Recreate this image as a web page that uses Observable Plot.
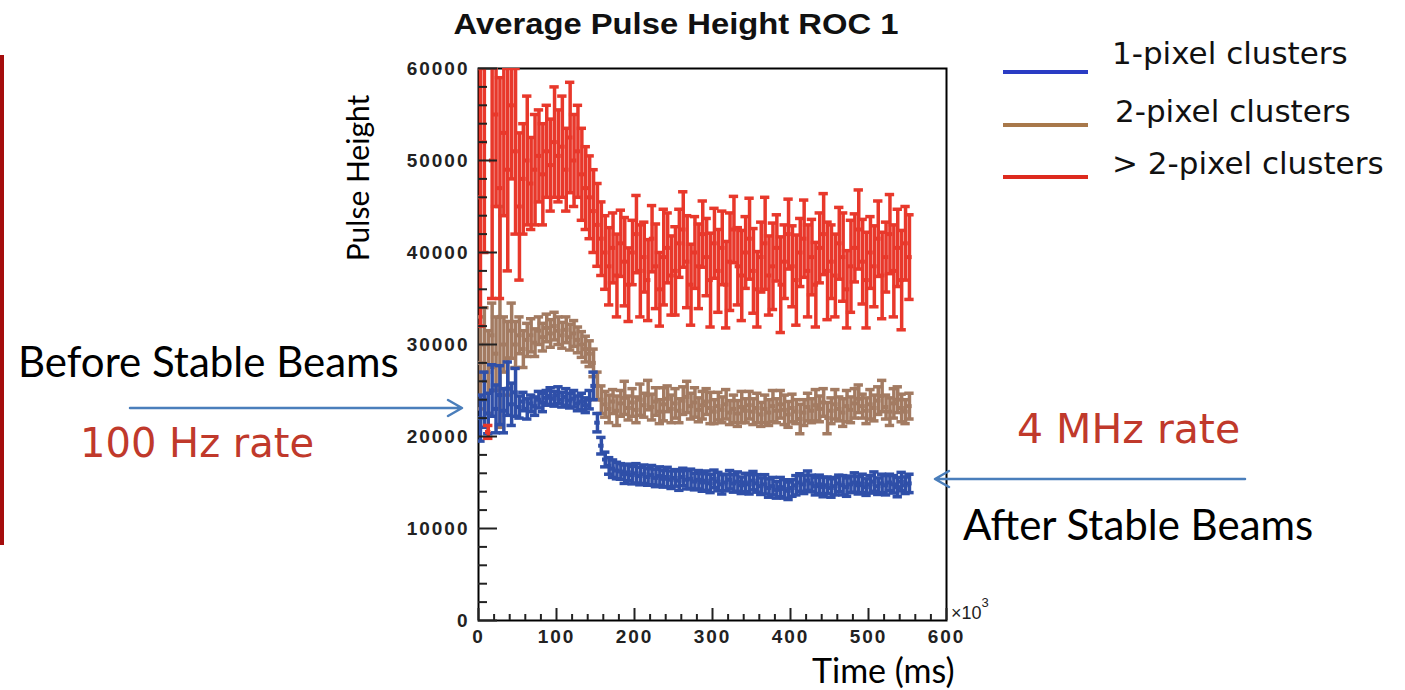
<!DOCTYPE html>
<html>
<head>
<meta charset="utf-8">
<script src="https://cdn.jsdelivr.net/npm/d3@7"></script>
<script src="https://cdn.jsdelivr.net/npm/@observablehq/plot@0.6"></script>
<style>
  html, body { margin: 0; padding: 0; background: #fff; }
  #wrap { position: relative; width: 1405px; height: 690px; overflow: hidden; }
  #chart { position: absolute; left: 0; top: 0; }
  .ov { position: absolute; white-space: nowrap; line-height: 1; }
  .cal { font-family: Lato, "Open Sans", sans-serif; color: #000; }
  .comic { font-family: "DejaVu Sans", sans-serif; }
</style>
</head>
<body>
<div id="wrap">
  <div id="chart"></div>
</div>
<script>
// ---- Data (time in units of 10^3 ms, pulse height in ADC units) ----
const timeBins = [
  2.5,7.5,12.5,17.5,22.5,27.5,32.5,37.5,42.5,47.5,
  52.5,57.5,62.5,67.5,72.5,77.5,82.5,87.5,92.5,97.5,
  102.5,107.5,112.5,117.5,122.5,127.5,132.5,137.5,142.5,147.5,
  152.5,157.5,162.5,167.5,172.5,177.5,182.5,187.5,192.5,197.5,
  202.5,207.5,212.5,217.5,222.5,227.5,232.5,237.5,242.5,247.5,
  252.5,257.5,262.5,267.5,272.5,277.5,282.5,287.5,292.5,297.5,
  302.5,307.5,312.5,317.5,322.5,327.5,332.5,337.5,342.5,347.5,
  352.5,357.5,362.5,367.5,372.5,377.5,382.5,387.5,392.5,397.5,
  402.5,407.5,412.5,417.5,422.5,427.5,432.5,437.5,442.5,447.5,
  452.5,457.5,462.5,467.5,472.5,477.5,482.5,487.5,492.5,497.5,
  502.5,507.5,512.5,517.5,522.5,527.5,532.5,537.5,542.5,547.5,552.5
];

const onePixel = [
  22000,24000,22500,25000,23000,24500,22800,25200,23500,24800,
  23200,23800,23000,23600,23300,24000,23700,24200,24400,24100,
  24500,24000,24300,23900,24100,23600,23800,23400,24000,25500,
  21500,19000,17500,16800,16500,16300,16200,15900,16100,15800,
  16000,15700,15900,15600,15800,15500,15700,15400,15600,15300,
  15500,15200,15600,15300,15400,15100,15300,15000,15200,14900,
  15400,15100,14800,15000,15300,14900,15100,14700,15000,14800,
  15200,14900,14600,14800,14400,14600,14200,14500,14300,14100,
  14400,14700,15000,14800,15200,14900,14600,14800,14500,14700,
  14400,14600,14900,14700,14500,14800,15000,14700,14900,14500,
  14800,15100,14600,14900,14700,15000,14800,14500,15100,14700,14900
];
const onePixelErr = [
  2500,3000,2200,2800,2600,3200,2400,2900,2300,2600,
  1200,1000,1100,900,1000,900,1000,800,900,800,
  900,800,900,800,900,800,900,800,1000,1500,
  1000,900,800,900,950,900,850,1000,900,950,
  1050,950,1000,900,1050,950,1000,900,1050,950,
  900,1050,950,1000,1050,900,1000,950,1050,1000,
  950,1000,1050,900,1000,950,1050,900,1000,1050,
  1000,950,900,1050,1000,950,900,1050,1000,950,
  900,1050,950,1000,1050,900,950,1000,1050,900,
  1000,950,900,1050,1000,900,1050,950,1000,900,
  950,1050,900,1000,1050,900,950,1050,1000,900,1000
];

const twoPixel = [
  28000,30000,27000,31000,29000,33000,30000,28500,31500,30000,
  31000,29500,30500,31000,30200,31500,30800,31800,31200,32000,
  31500,31000,31600,30800,31200,30500,30000,29500,29000,28000,
  25500,24000,23500,23000,23800,22800,23600,24200,23100,23700,
  22900,24000,23400,24500,23200,23800,22700,23500,24100,23000,
  23600,22800,23900,24300,23300,23700,22900,23400,23800,23100,
  22700,23300,22900,23500,22600,23000,22500,23200,22800,23400,
  22700,23100,22400,23000,22600,23300,22800,23500,22900,22400,
  23100,22700,21900,22600,23200,22800,23400,23000,23700,22000,
  22800,23500,23000,22600,23300,22900,23600,24100,23300,22800,
  23500,23100,23900,24400,23200,22700,23600,24000,23100,22700,23300
];
const twoPixelErr = [
  5000,4000,4500,3500,4000,12000,3000,4000,3000,2500,
  2000,2000,1800,1800,1500,1500,1500,1500,1500,1500,
  1500,1400,1400,1400,1400,1400,1400,1400,1400,1500,
  1500,1500,1400,1500,1300,1600,1400,1800,1300,1500,
  1400,1700,1300,1600,1400,1500,1300,1800,1400,1500,
  1600,1300,1500,1700,1400,1600,1300,1500,1400,1700,
  1300,1500,1400,1600,1300,1500,1400,1700,1300,1500,
  1400,1600,1300,1500,1400,1700,1300,1500,1600,1400,
  1500,1300,1600,1400,1500,1300,1700,1400,1500,1700,
  1400,1600,1300,1500,1700,1400,1600,1500,1300,1400,
  1600,1400,1500,1700,1300,1500,1600,1400,1500,1300,1400
];

const multiPixel = [
  46000,52000,20500,50000,55000,47000,53000,49000,56000,51000,
  45000,48000,50000,47500,49000,50500,48500,51000,49500,52000,
  50500,51500,49000,52500,50000,51000,48500,47000,46000,44500,
  43000,41500,40000,38500,40500,37500,41000,39000,36500,40000,
  42000,38000,39500,37000,41500,38500,36000,39500,40500,37500,
  38000,41000,42500,39000,36500,40000,38500,42000,39500,37000,
  41000,38000,40500,36500,39000,42500,38500,37500,40000,41500,
  38000,36000,39500,41000,37500,38500,40500,36500,39000,42000,
  38500,37000,40000,41500,38000,39500,36500,40500,42000,38000,
  39000,37500,41000,39500,36000,38500,40500,42500,39000,37000,
  40000,38500,41500,37500,39500,42000,38000,40500,37000,41000,39500
];
const multiPixelErr = [
  14000,12000,700,15000,10000,12000,9000,11000,8000,9000,
  8000,6000,7000,5000,6000,5000,5500,5000,5000,6000,
  5000,5500,4500,6000,5000,5000,5000,4500,4500,4500,
  4500,4000,4000,4200,3800,4500,3600,4800,4000,3500,
  4200,5000,3800,4400,3600,4600,4000,5200,3800,4300,
  4800,3700,4100,5000,4400,3900,4600,3600,4200,5100,
  3800,4500,4000,4700,5300,3600,4200,4900,3900,4400,
  4600,4100,3800,5000,4300,4700,3600,5200,4000,3800,
  4400,4900,3700,4200,5000,4100,4600,3800,4400,5300,
  4000,4500,3900,4800,4200,5000,3700,4300,4600,5200,
  3900,4400,4100,4700,3800,4300,5000,4200,5400,4000,4600
];

const seriesNames = ["1-pixel clusters", "2-pixel clusters", "> 2-pixel clusters"];
const seriesColors = ["#2f4fa8", "#a37b62", "#e8382b"];
const legendColors = ["#2a3cc4", "#a8784a", "#dd2a1e"];

const xMajorTicks = [0, 100, 200, 300, 400, 500, 600];
const xMinorTicks = [20,40,60,80,120,140,160,180,220,240,260,280,320,340,360,380,420,440,460,480,520,540,560,580];
const yMajorTicks = [0, 10000, 20000, 30000, 40000, 50000, 60000];
const yMinorTicks = [2000,4000,6000,8000,12000,14000,16000,18000,22000,24000,26000,28000,32000,34000,36000,38000,42000,44000,46000,48000,52000,54000,56000,58000];

const titleText = "Average Pulse Height ROC 1";
const yTitle = "Pulse Height";
const xTitle = "Time (ms)";

// ---- Build tables ----
const mk = (vals, errs) => timeBins.map((t, i) => ({t, v: vals[i], e: errs[i]}));
const tables = [mk(onePixel, onePixelErr), mk(twoPixel, twoPixelErr), mk(multiPixel, multiPixelErr)];

function errMarks(data, color) {
  return [
    Plot.ruleX(data, {x: "t", y1: d => d.v - d.e, y2: d => d.v + d.e, stroke: color, strokeWidth: 3.5, clip: true}),
    Plot.ruleY(data, {y: "v", x1: d => d.t - 3.5, x2: d => d.t + 3.5, stroke: color, strokeWidth: 4, clip: true}),
    Plot.ruleY(data, {y: d => d.v + d.e, x1: d => d.t - 6, x2: d => d.t + 6, stroke: color, strokeWidth: 3.5, clip: true}),
    Plot.ruleY(data, {y: d => d.v - d.e, x1: d => d.t - 6, x2: d => d.t + 6, stroke: color, strokeWidth: 3.5, clip: true})
  ];
}

const chart = Plot.plot({
  width: 1405,
  height: 690,
  marginLeft: 478,
  marginRight: 459,
  marginTop: 68,
  marginBottom: 70,
  x: {domain: [0, 600], label: null},
  y: {domain: [0, 60000], label: null},
  style: {fontFamily: "'Liberation Sans', Arial, sans-serif", fontSize: "19px", fontWeight: "bold", letterSpacing: "2px", color: "#222", background: "transparent", overflow: "visible"},
  marks: [
    Plot.frame({stroke: "#000", strokeWidth: 2}),
    ...errMarks(tables[1], seriesColors[1]),
    ...errMarks(tables[0], seriesColors[0]),
    ...errMarks(tables[2], seriesColors[2]),
    Plot.axisY({ticks: yMajorTicks, tickSize: -19, strokeWidth: 2, tickFormat: () => "", label: null}),
    Plot.axisY({ticks: yMinorTicks, tickSize: -9, strokeWidth: 2, tickFormat: () => "", label: null}),
    Plot.axisY({ticks: yMajorTicks, tickSize: 0, tickPadding: 9, tickFormat: d3.format("d"), label: null}),
    Plot.axisX({ticks: xMajorTicks, tickSize: -12, strokeWidth: 2, tickFormat: () => "", label: null}),
    Plot.axisX({ticks: xMinorTicks, tickSize: -6, strokeWidth: 2, tickFormat: () => "", label: null}),
    Plot.axisX({ticks: xMajorTicks, tickSize: 0, tickPadding: 9, tickFormat: d3.format("d"), label: null})
  ]
});
document.getElementById("chart").appendChild(chart);

// ---- Overlays: titles, legend, annotations ----
const wrap = document.getElementById("wrap");
function addDiv(html, css, cls) {
  const d = document.createElement("div");
  d.className = "ov " + (cls || "");
  d.innerHTML = html;
  Object.assign(d.style, css);
  wrap.appendChild(d);
  return d;
}
// title
addDiv(titleText, {left: "676px", top: "10px", transform: "translateX(-50%) scaleX(1.13)", fontFamily: "'Liberation Sans', Arial, sans-serif", fontWeight: "bold", fontSize: "29px", color: "#111"});
// y title (rotated)
addDiv(yTitle, {left: "357px", top: "178px", transform: "translate(-50%,-50%) rotate(-90deg)", fontSize: "30px"}, "cal");
// x title
addDiv(xTitle, {left: "812px", top: "653px", fontSize: "34px"}, "cal");
// x10^3
addDiv("×10<sup style='font-size:13px;position:relative;top:-5px'>3</sup>", {left: "951px", top: "601px", fontFamily: "'Liberation Sans', Arial, sans-serif", fontSize: "18px", color: "#222"});
// legend
const legendY = [72, 125, 177];
const legendTextY = [38, 96, 148];
seriesNames.forEach((name, i) => {
  addDiv("", {left: "1003px", top: (legendY[i] - 2) + "px", width: "85px", height: "4px", background: legendColors[i]});
  addDiv(name.replace(">", "&gt;"), {left: (i === 1 ? 1115 : 1112) + "px", top: legendTextY[i] + "px", fontSize: "31px", color: "#111"}, "comic");
});
// left annotations
addDiv("", {left: "0px", top: "55px", width: "4px", height: "490px", background: "#a50d0d"});
addDiv("Before Stable Beams", {left: "18px", top: "340px", fontSize: "42px"}, "cal");
addDiv("100 Hz rate", {left: "80px", top: "423px", fontSize: "40px", color: "#c0392b"}, "comic");
// right annotations
addDiv("4 MHz rate", {left: "1017px", top: "409px", fontSize: "41px", color: "#c0392b"}, "comic");
addDiv("After Stable Beams", {left: "963px", top: "503px", fontSize: "42px"}, "cal");
// arrows
const ns = "http://www.w3.org/2000/svg";
const svg = document.createElementNS(ns, "svg");
svg.setAttribute("width", 1405); svg.setAttribute("height", 690);
Object.assign(svg.style, {position: "absolute", left: "0", top: "0", pointerEvents: "none"});
svg.innerHTML = `
  <g stroke="#4a7ebb" stroke-width="2.5" fill="none" stroke-linecap="round" stroke-linejoin="round">
    <path d="M130,408 H461 M448,400 L462,408 L448,416"/>
    <path d="M1245,479 H936 M949,471 L935,479 L949,487"/>
  </g>`;
wrap.appendChild(svg);
</script>
</body>
</html>
